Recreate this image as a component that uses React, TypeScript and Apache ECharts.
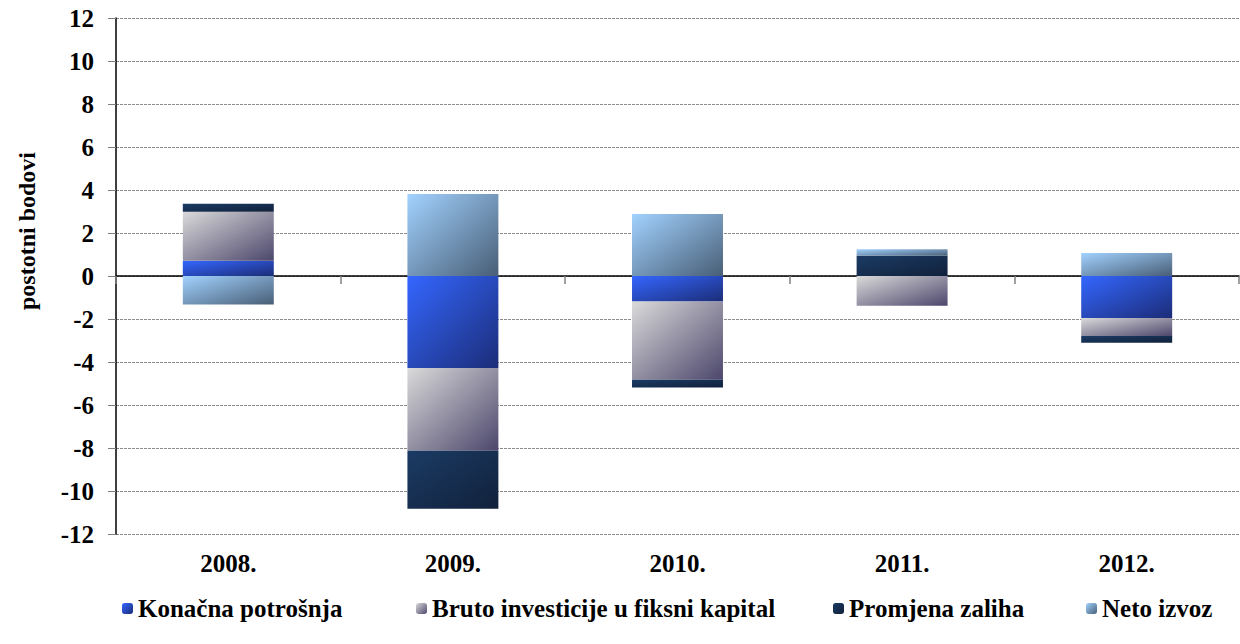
import React, { useEffect, useRef } from "react";
import * as echarts from "echarts";

const categories = ["2008.", "2009.", "2010.", "2011.", "2012."];
const konacnaPotrosnja = [0.71, -4.28, -1.19, 0, -1.95];
const brutoInvesticije = [2.28, -3.85, -3.64, -1.38, -0.84];
const promjenaZaliha = [0.37, -2.7, -0.36, 0.94, -0.31];
const netoIzvoz = [-1.33, 3.81, 2.88, 0.31, 1.07];
const seriesNames = [
  "Konačna potrošnja",
  "Bruto investicije u fiksni kapital",
  "Promjena zaliha",
  "Neto izvoz",
];
const yAxisTitle = "postotni bodovi";

const FONT = '"Liberation Serif", "Times New Roman", serif';

const grad = (a: string, b: string) =>
  new echarts.graphic.LinearGradient(0, 0, 1, 1, [
    { offset: 0, color: a },
    { offset: 1, color: b },
  ]);

export default function App() {
  const ref = useRef<HTMLDivElement>(null);
  useEffect(() => {
    if (!ref.current) return;
    const chart = echarts.init(ref.current, null, { renderer: "svg" });
    const colors = [
      grad("#3466FF", "#1C2D78"),
      grad("#DADADA", "#4C476C"),
      grad("#1B3B64", "#11213B"),
      grad("#A2D2FF", "#485E76"),
    ];
    const datasets = [konacnaPotrosnja, brutoInvesticije, promjenaZaliha, netoIzvoz];
    const legendLefts = [117, 411, 828, 1081];
    chart.setOption({
      animation: false,
      grid: { left: 116, right: 1, top: 18, bottom: 110 },
      graphic: [
        {
          type: "text",
          x: 27,
          y: 231,
          rotation: Math.PI / 2,
          style: {
            text: yAxisTitle,
            fontFamily: FONT,
            fontWeight: "bold",
            fontSize: 24,
            fill: "#000",
            align: "center",
            verticalAlign: "middle",
          },
        },
      ],
      legend: seriesNames.map((n, i) => ({
        data: [n],
        left: legendLefts[i],
        top: 591,
        itemWidth: 11,
        itemHeight: 11,
        itemGap: 4,
        textStyle: { fontFamily: FONT, fontWeight: "bold", fontSize: 25, color: "#000" },
      })),
      xAxis: [
        {
          type: "category",
          data: categories,
          position: "bottom",
          axisLine: { show: false, onZero: false },
          axisTick: { show: false },
          axisLabel: {
            fontFamily: FONT,
            fontWeight: "bold",
            fontSize: 25,
            color: "#000",
            margin: 17,
          },
        },
        {
          type: "category",
          data: categories,
          position: "bottom",
          axisLine: { show: true, onZero: true, lineStyle: { color: "#000", width: 1.5 } },
          axisTick: { show: true, length: 8, lineStyle: { color: "#808080", width: 1.5 } },
          axisLabel: { show: false },
        },
      ],
      yAxis: {
        type: "value",
        min: -12,
        max: 12,
        interval: 2,
        axisLine: { show: true, lineStyle: { color: "#000", width: 1.5 } },
        axisTick: { show: true, length: 8, lineStyle: { color: "#808080" } },
        axisLabel: {
          fontFamily: FONT,
          fontWeight: "bold",
          fontSize: 25,
          color: "#000",
          margin: 22,
        },
        splitLine: { show: true, lineStyle: { color: "#8a8a8a", type: [3, 1], width: 1 } },
      },
      series: seriesNames.map((n, i) => ({
        name: n,
        type: "bar",
        stack: "total",
        xAxisIndex: 0,
        barWidth: "40.5%",
        data: datasets[i],
        itemStyle: { color: colors[i] },
      })),
    });
    return () => chart.dispose();
  }, []);
  return (
    <div
      ref={ref}
      style={{ position: "absolute", left: 0, top: 0, width: 1240, height: 644, background: "#fff" }}
    />
  );
}
